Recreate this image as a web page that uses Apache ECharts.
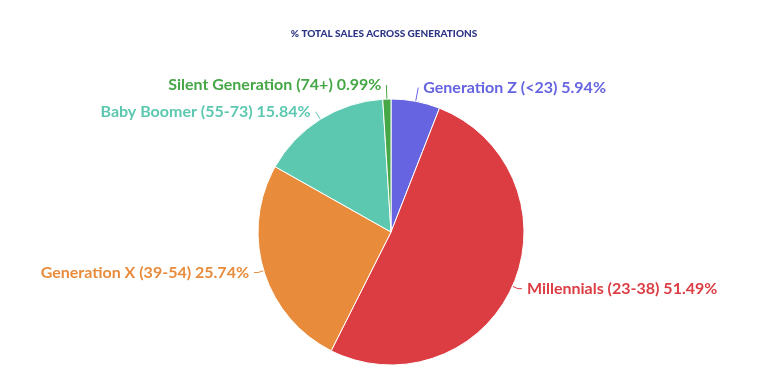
<!DOCTYPE html>
<html><head><meta charset="utf-8">
<script src="https://cdn.jsdelivr.net/npm/echarts@6/dist/echarts.min.js"></script>
<style>html,body{margin:0;padding:0;background:#fff}#c{width:768px;height:386px}</style>
</head><body><div id="c"></div>
<script>
const categories = ['Generation Z (<23)', 'Millennials (23-38)', 'Generation X (39-54)', 'Baby Boomer (55-73)', 'Silent Generation (74+)'];
const values = [5.94, 51.49, 25.74, 15.84, 0.99];
const colors = ['#6664e0', '#dc3d43', '#e88c3c', '#5cc8b0', '#45a745'];
const lineLengths = [14, 6, 6, 9, 14];
const lineLengths2 = [0, 4, 4, 0, 0];
const title = '% TOTAL SALES ACROSS GENERATIONS';

const chart = echarts.init(document.getElementById('c'));
chart.setOption({
  animation: false,
  title: {
    text: title, left: 'center', top: 24,
    textStyle: { fontFamily: 'Lato', fontSize: 10, fontWeight: 900, color: '#2e3584' }
  },
  series: [{
    type: 'pie',
    center: [391, 232],
    radius: 133,
    startAngle: 90,
    clockwise: true,
    itemStyle: { borderColor: '#fff', borderWidth: 1 },
    label: {
      show: true,
      formatter: p => p.name + ' ' + p.value.toFixed(2) + '%',
      fontFamily: 'Lato', fontSize: 16, fontWeight: 'bold',
      color: 'inherit'
    },
    labelLine: { show: true, length: 8, length2: 4, lineStyle: { width: 1 } },
    data: categories.map((n, i) => ({
      name: n, value: values[i],
      itemStyle: { color: colors[i] },
      label: { color: colors[i] },
      labelLine: { length: lineLengths[i], length2: lineLengths2[i], lineStyle: { color: colors[i] } }
    }))
  }]
});
</script></body></html>
